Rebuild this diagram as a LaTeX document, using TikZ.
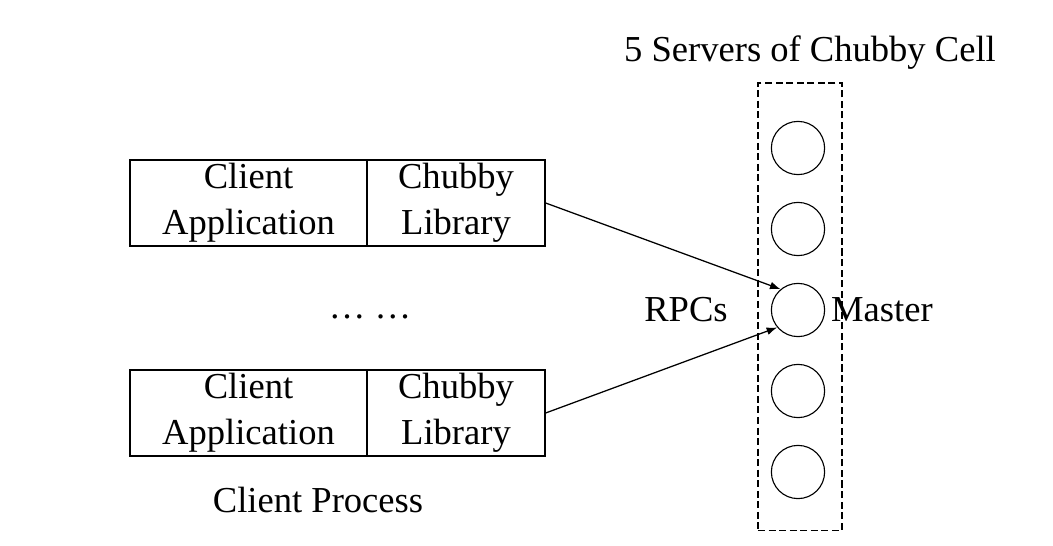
\documentclass[tikz,border=0pt]{standalone}
\usepackage{fontspec}
\setmainfont{Liberation Serif}
\usetikzlibrary{arrows.meta}
\tikzset{
    box/.style={draw, line width=0.9pt, minimum height=2.15cm, inner sep=0pt, align=center},
    server/.style={draw, circle, line width=0.8pt, minimum size=1.33cm, inner sep=0pt}
}

\begin{document}
\begin{tikzpicture}[x=0.025cm, y=-0.025cm, font=\fontsize{26}{33}\selectfont]
            \useasboundingbox (0,0) rectangle (1053,546);

            \node[box, minimum width=5.925cm] (A1) at (248.5,203) {Client\\Application};
            \node[box, minimum width=4.45cm] (L1) at (456,203) {Chubby\\Library};
            \node[box, minimum width=5.925cm] (A2) at (248.5,413) {Client\\Application};
            \node[box, minimum width=4.45cm] (L2) at (456,413) {Chubby\\Library};

            \node (dots) at (370,317) {\dots\ \dots};
            \node (proc) at (318,500) {Client Process};

            \node[draw, dashed, dash pattern=on 5pt off 2.5pt, line width=0.8pt, minimum width=2.1cm, minimum height=11.175cm, inner sep=0pt] (cell) at (800,306.5) {};
            \node (title) at (810,53) {5 Servers of Chubby Cell};

            \foreach \i/\y in {1/148, 2/229, 3/310, 4/391, 5/472}
                \node[server] (S\i) at (798,\y) {};

            \node (rpc) at (686,310) {RPCs};
            \node (master) at (882,310) {Master};

            \draw(L1.east)[-{Latex[length=7.5pt, width=5.5pt]}, line width=0.9pt] -- (S3.130);
            \draw(L2.east)[-{Latex[length=7.5pt, width=5.5pt]}, line width=0.9pt] -- (S3.220);
        \end{tikzpicture}
\end{document}
